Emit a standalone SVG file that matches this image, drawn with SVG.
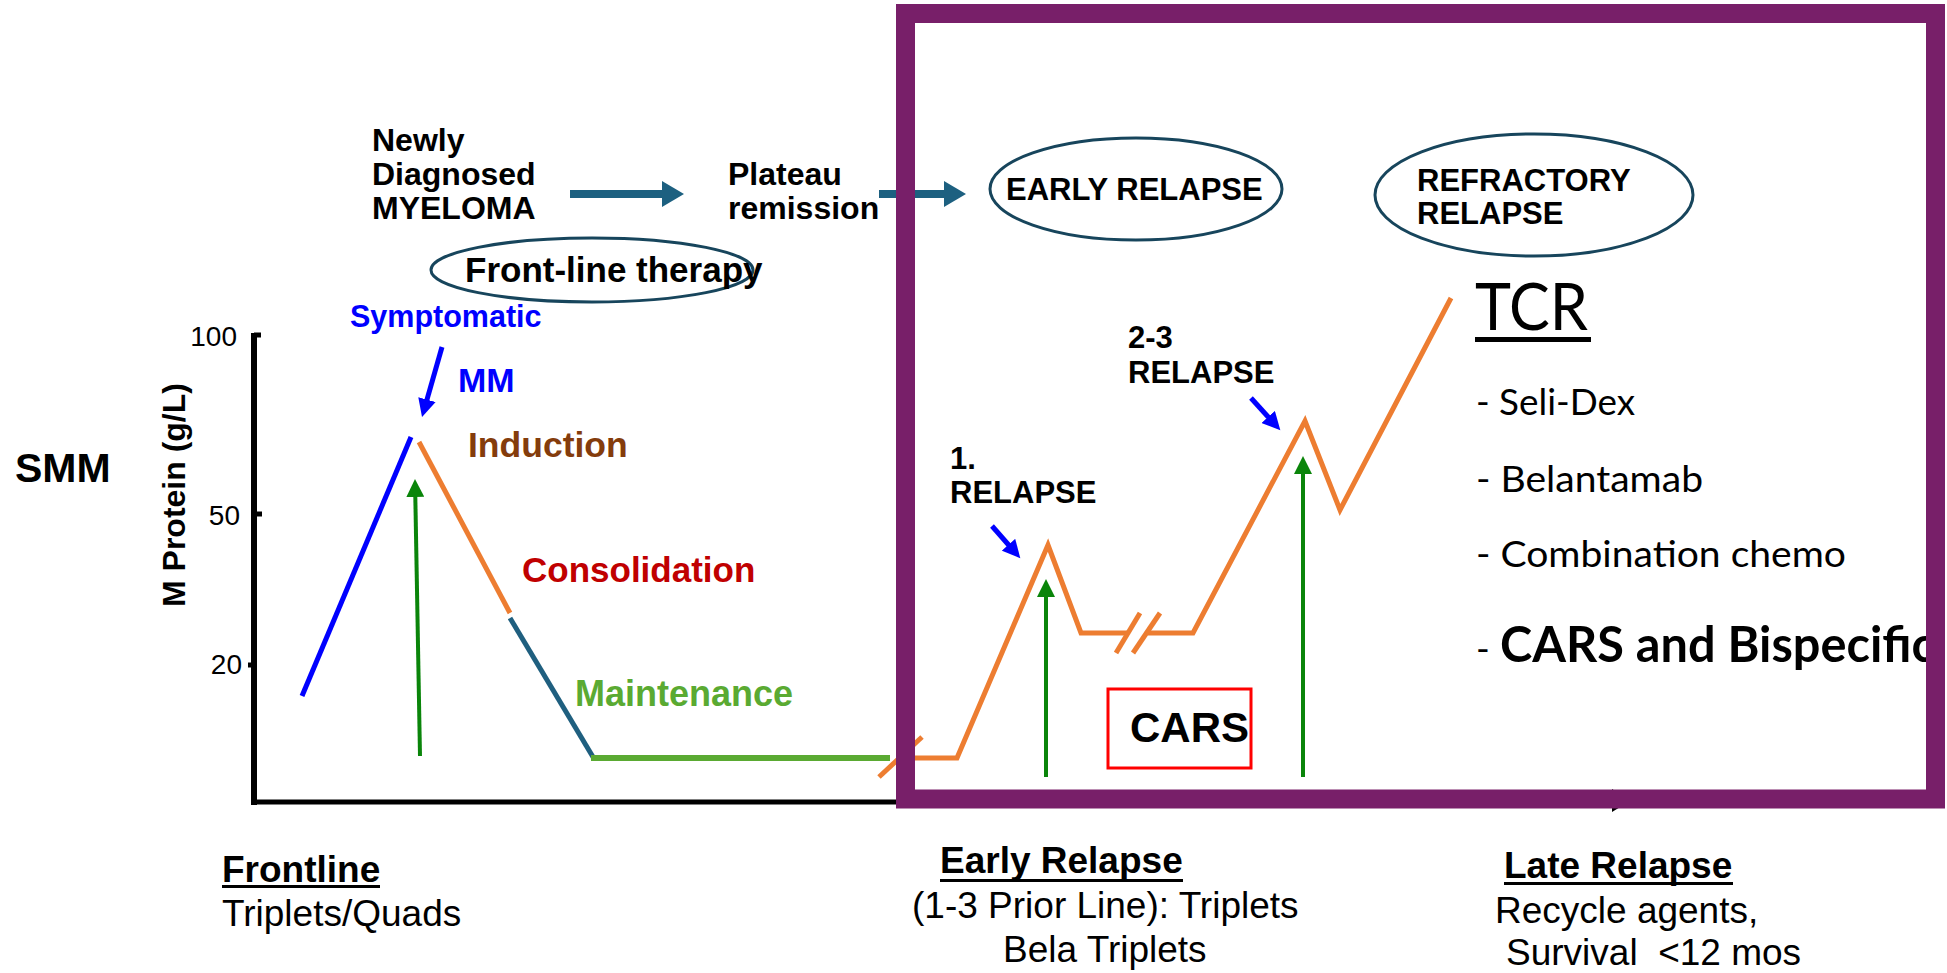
<svg xmlns="http://www.w3.org/2000/svg" width="1947" height="973" viewBox="0 0 1947 973">
<style>
.b{font-family:"Liberation Sans",Arial,sans-serif;font-weight:bold;fill:#000}
.r{font-family:"Liberation Sans",Arial,sans-serif;fill:#000}
.c{font-family:Lato,"Liberation Sans",sans-serif;fill:#000}
.ell{fill:none;stroke:#17455C;stroke-width:3}
.or{fill:none;stroke:#ED7D31;stroke-width:5}
.ga{stroke:#0A850A;stroke-width:4;fill:none}
.ba{stroke:#0000FF;stroke-width:5;fill:none}
.ta{stroke:#1D6080;stroke-width:8;fill:none}
</style>
<defs>
<marker id="th" markerUnits="userSpaceOnUse" markerWidth="24" markerHeight="26" refX="1" refY="13" orient="auto"><path d="M0,0 L22,13 L0,26 Z" fill="#1D6080"/></marker>
<marker id="gh" markerUnits="userSpaceOnUse" markerWidth="20" markerHeight="18" refX="1" refY="9" orient="auto"><path d="M0,0 L18,9 L0,18 Z" fill="#0A850A"/></marker>
<marker id="bh" markerUnits="userSpaceOnUse" markerWidth="20" markerHeight="18" refX="1" refY="9" orient="auto"><path d="M0,0 L18,9 L0,18 Z" fill="#0000FF"/></marker>
</defs>
<rect width="1947" height="973" fill="#fff"/>

<g id="axes">
<line x1="254" y1="333" x2="254" y2="805" stroke="#000" stroke-width="6"/>
<line x1="251" y1="802" x2="1612" y2="802" stroke="#000" stroke-width="5"/>
<path d="M1612,789 L1630,801 L1612,812 Z" fill="#000"/>
<line x1="254" y1="335" x2="261" y2="335" stroke="#000" stroke-width="5"/>
<line x1="254" y1="514" x2="262" y2="514" stroke="#000" stroke-width="5"/>
<line x1="248" y1="665" x2="256" y2="665" stroke="#000" stroke-width="5"/>
<text class="r" x="237" y="346" font-size="28" text-anchor="end">100</text>
<text class="r" x="240" y="525" font-size="28" text-anchor="end">50</text>
<text class="r" x="242" y="674" font-size="28" text-anchor="end">20</text>
<text class="b" font-size="32" transform="translate(185,607) rotate(-90)">M Protein (g/L)</text>
<text class="b" x="15" y="482" font-size="41">SMM</text>
</g>

<g id="connectors">
<line class="ta" x1="570" y1="194" x2="663" y2="194" marker-end="url(#th)"/>
<line class="ta" x1="879" y1="194" x2="945" y2="194" marker-end="url(#th)"/>
<line x1="302" y1="696" x2="411" y2="437" stroke="#0000FF" stroke-width="5"/>
<line class="or" x1="419" y1="442" x2="510" y2="613"/>
<line x1="510" y1="618" x2="593" y2="757" stroke="#1F5F7F" stroke-width="5"/>
<line x1="591" y1="758" x2="890" y2="758" stroke="#5AAA32" stroke-width="6"/>
<line class="or" x1="879" y1="777" x2="922" y2="737"/>
<polyline class="or" points="915,758 957,758 1048,545 1081,633 1128,633"/>
<polyline class="or" points="1148,633 1193,633 1305,421 1340,510 1451,298"/>
<line class="or" x1="1116" y1="653" x2="1140" y2="613"/>
<line class="or" x1="1133" y1="653" x2="1160" y2="613"/>
<line class="ga" x1="420" y1="756" x2="415.3" y2="496" marker-end="url(#gh)"/>
<line class="ga" x1="1046" y1="777" x2="1046" y2="596" marker-end="url(#gh)"/>
<line class="ga" x1="1303" y1="777" x2="1303" y2="473" marker-end="url(#gh)"/>
<line class="ba" x1="442" y1="347" x2="426.7" y2="400.6" marker-end="url(#bh)"/>
<line class="ba" x1="992" y1="526" x2="1009.1" y2="545.5" marker-end="url(#bh)"/>
<line class="ba" x1="1251" y1="398" x2="1268.9" y2="417.7" marker-end="url(#bh)"/>
</g>

<g id="newly">
<text class="b" font-size="32"><tspan x="372" y="151">Newly</tspan><tspan x="372" y="185">Diagnosed</tspan><tspan x="372" y="219">MYELOMA</tspan></text>
</g>
<g id="plateau">
<text class="b" font-size="32"><tspan x="728" y="185">Plateau</tspan><tspan x="728" y="219">remission</tspan></text>
</g>
<g id="early-relapse">
<ellipse class="ell" cx="1136" cy="189" rx="146" ry="51"/>
<text class="b" x="1006" y="200" font-size="31">EARLY RELAPSE</text>
</g>
<g id="refractory-relapse">
<ellipse class="ell" cx="1534" cy="195" rx="159" ry="61"/>
<text class="b" font-size="31"><tspan x="1417" y="191">REFRACTORY</tspan><tspan x="1417" y="224">RELAPSE</tspan></text>
</g>
<g id="front-line">
<ellipse class="ell" cx="592" cy="270" rx="161" ry="32"/>
<text class="b" x="465" y="282" font-size="35">Front-line therapy</text>
</g>

<g id="labels">
<text class="b" x="350" y="327" font-size="30.5" style="fill:#0000FF">Symptomatic</text>
<text class="b" x="458" y="392" font-size="34" style="fill:#0000FF">MM</text>
<text class="b" x="468" y="457" font-size="35.5" style="fill:#843C0C">Induction</text>
<text class="b" x="522" y="582" font-size="35" style="fill:#C00000">Consolidation</text>
<text class="b" x="575" y="706" font-size="36" style="fill:#5AAA32">Maintenance</text>
<text class="b" font-size="31"><tspan x="950" y="469">1.</tspan><tspan x="950" y="503">RELAPSE</tspan></text>
<text class="b" font-size="31"><tspan x="1128" y="348">2-3</tspan><tspan x="1128" y="383">RELAPSE</tspan></text>
</g>

<g id="cars">
<rect x="1108" y="689" width="143" height="79" fill="none" stroke="#FF0000" stroke-width="3"/>
<text class="b" x="1130" y="742" font-size="42">CARS</text>
</g>

<g id="tcr">
<text class="c" x="1475" y="330" font-size="65" textLength="113" lengthAdjust="spacingAndGlyphs">TCR</text>
<rect x="1475" y="337" width="116" height="5" fill="#000"/>
<text class="c" x="1476" y="415" font-size="37" textLength="159" lengthAdjust="spacingAndGlyphs">- Seli-Dex</text>
<text class="c" x="1476" y="492" font-size="37" textLength="227" lengthAdjust="spacingAndGlyphs">- Belantamab</text>
<text class="c" x="1476" y="567" font-size="37" textLength="370" lengthAdjust="spacingAndGlyphs">- Combination chemo</text>
<text class="c" y="662" font-size="37"><tspan x="1476">-</tspan><tspan x="1500" font-weight="bold" font-size="49" textLength="435" lengthAdjust="spacingAndGlyphs">CARS and Bispecific</tspan></text>
</g>

<g id="frontline">
<text class="b" x="222" y="882" font-size="37">Frontline</text>
<rect x="222" y="885" width="158" height="3" fill="#000"/>
<text class="r" x="222" y="926" font-size="37">Triplets/Quads</text>
</g>
<g id="early-relapse-text">
<text class="b" x="940" y="873" font-size="37">Early Relapse</text>
<rect x="940" y="879" width="243" height="3" fill="#000"/>
<text class="r" x="912" y="918" font-size="37">(1-3 Prior Line): Triplets</text>
<text class="r" x="1003" y="962" font-size="37">Bela Triplets</text>
</g>
<g id="late-relapse-text">
<text class="b" x="1504" y="878" font-size="37">Late Relapse</text>
<rect x="1504" y="882" width="229" height="3" fill="#000"/>
<text class="r" x="1495" y="923" font-size="37">Recycle agents,</text>
<text class="r" x="1506" y="965" font-size="37" xml:space="preserve" style="white-space:pre">Survival  &lt;12 mos</text>
</g>

<g id="frame">
<rect x="905.5" y="13.5" width="1030" height="785.5" fill="none" stroke="#781F69" stroke-width="19"/>
</g>
</svg>
